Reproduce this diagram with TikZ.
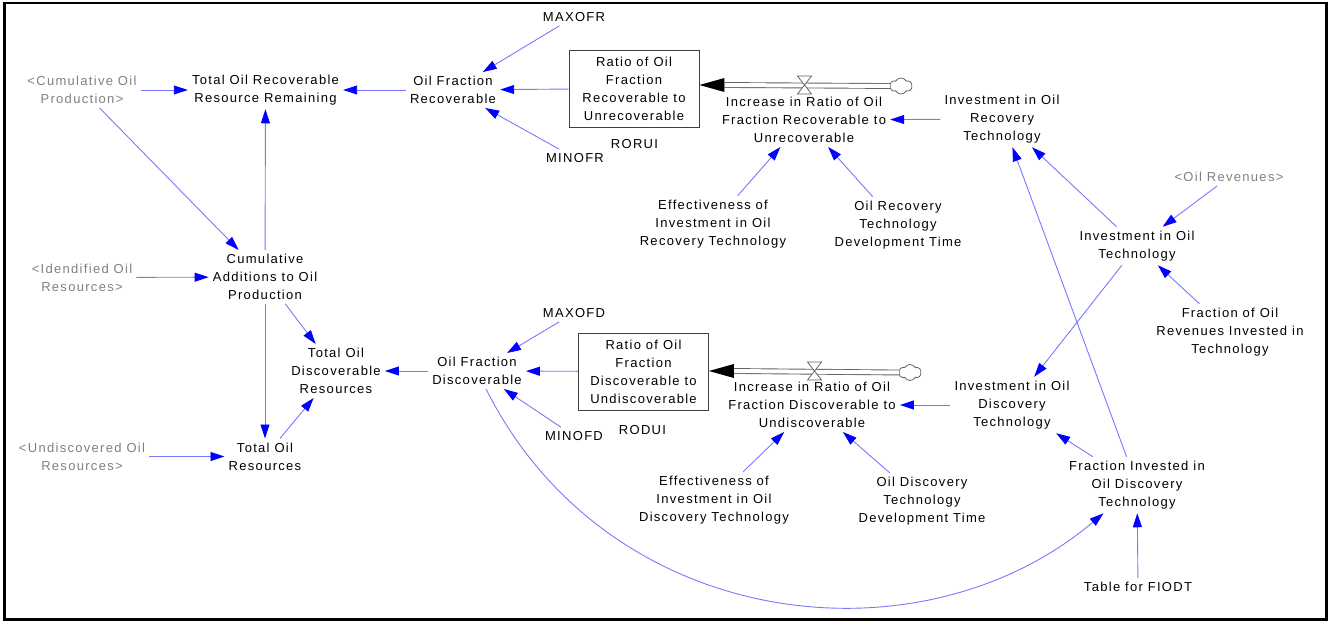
\documentclass[tikz,border=0pt]{standalone}
\usepackage{fontspec}
\setmainfont{Liberation Sans}[LetterSpace=10]
\usetikzlibrary{arrows.meta,shapes.symbols,calc}

\definecolor{linkblue}{RGB}{120,120,255}
\definecolor{tipblue}{RGB}{0,0,255}
\definecolor{pipegray}{RGB}{100,100,100}
\definecolor{ghosttext}{RGB}{128,128,128}

\tikzset{
  var/.style={align=center, inner sep=4pt, font=\fontsize{13}{18}\selectfont},
  ghostvar/.style={var, text=ghosttext},
  stock/.style={var, draw=black!75, line width=0.8pt, minimum width=130pt, minimum height=77pt, inner sep=0pt},
  link/.style={draw=linkblue, line width=0.9pt, -{Triangle[length=14pt,width=9pt,color=tipblue]}},
  pipe/.style={draw=pipegray, line width=0.9pt, double=white, double distance=4pt},
  valveshape/.style={draw=pipegray, fill=white, line width=0.8pt},
  cloudsrc/.style={cloud, cloud puffs=6, cloud puff arc=120, aspect=1.3, draw=pipegray, fill=white, line width=0.8pt, minimum width=22pt, minimum height=16pt, inner sep=0pt},
}

\begin{document}
\begin{tikzpicture}[x=1pt,y=-1pt]
\useasboundingbox (0,0) rectangle (1331,623);
\draw[line width=2.5pt] (4.5,3) rectangle (1326.5,619.5);

% ---- upper sector: recoverable fraction ----
\node[ghostvar] (cop) at (82,90) {<Cumulative Oil\\Production>};
\node[var] (torr) at (265.5,90) {Total Oil Recoverable\\Resource Remaining};
\node[var] (ofr) at (453,90) {Oil Fraction\\Recoverable};
\node[var] (maxofr) at (574,17) {MAXOFR};
\node[var] (minofr) at (575,158) {MINOFR};
\node[stock] (box1) at (634,88.5) {Ratio of Oil\\Fraction\\Recoverable to\\Unrecoverable};
\node[var] (rorui) at (634.5,144) {RORUI};
\node[var] (inc1) at (804,120) {Increase in Ratio of Oil\\Fraction Recoverable to\\Unrecoverable};
\node[cloudsrc] (cloud1) at (901,86) {};
\coordinate (v1) at (804.5,85);
\node[var] (invrec) at (1002,119) {Investment in Oil\\Recovery\\Technology};
\node[var] (effrec) at (713,224) {Effectiveness of\\Investment in Oil\\Recovery Technology};
\node[var] (devrec) at (898,225) {Oil Recovery\\Technology\\Development Time};
\node[ghostvar] (orev) at (1229,177) {<Oil Revenues>};
\node[var] (invtech) at (1137,246) {Investment in Oil\\Technology};
\node[var] (fracrev) at (1230,332) {Fraction of Oil\\Revenues Invested in\\Technology};

% ---- lower sector: discoverable fraction ----
\node[ghostvar] (ido) at (82,277.5) {<Idendified Oil\\Resources>};
\node[var] (cumadd) at (265,277) {Cumulative\\Additions to Oil\\Production};
\node[var] (todr) at (336,371) {Total Oil\\Discoverable\\Resources};
\node[var] (tor) at (265,456.5) {Total Oil\\Resources};
\node[ghostvar] (undisc) at (82,456.5) {<Undiscovered Oil\\Resources>};
\node[var] (ofd) at (477,371) {Oil Fraction\\Discoverable};
\node[var] (maxofd) at (574,313) {MAXOFD};
\node[var] (minofd) at (574,436) {MINOFD};
\node[stock] (box2) at (643.5,371.5) {Ratio of Oil\\Fraction\\Discoverable to\\Undiscoverable};
\node[var] (rodui) at (642.5,430) {RODUI};
\node[var] (inc2) at (812,405) {Increase in Ratio of Oil\\Fraction Discoverable to\\Undiscoverable};
\node[cloudsrc] (cloud2) at (910,372.5) {};
\coordinate (v2) at (814.5,371);
\node[var] (invdisc) at (1012,405) {Investment in Oil\\Discovery\\Technology};
\node[var] (effdisc) at (714,500) {Effectiveness of\\Investment in Oil\\Discovery Technology};
\node[var] (devdisc) at (922,501) {Oil Discovery\\Technology\\Development Time};
\node[var] (fiodt) at (1137,485) {Fraction Invested in\\Oil Discovery\\Technology};
\node[var] (tfiodt) at (1138,587) {Table for FIODT};

% ---- flows into the two stocks ----
\coordinate (tip1) at (box1.east |- v1);
\draw[pipe] (cloud1.west) -- ($(tip1)+(25,0)$);
\fill[black] (tip1) -- ++(25,-7) -- ++(0,14) -- cycle;
\draw[valveshape] (v1) ++(-7,-9) -- ++(14,0) -- ++(-14,18) -- ++(14,0) -- cycle;

\coordinate (tip2) at (box2.east |- v2);
\draw[pipe] (cloud2.west) -- ($(tip2)+(25,0)$);
\fill[black] (tip2) -- ++(25,-7) -- ++(0,14) -- cycle;
\draw[valveshape] (v2) ++(-7,-9) -- ++(14,0) -- ++(-14,18) -- ++(14,0) -- cycle;

% ---- causal links ----
\draw[link] (cop) -- (torr);
\draw[link] (cop) -- (cumadd);
\draw[link] (ofr) -- (torr);
\draw[link] (cumadd) -- (torr);
\draw[link] (maxofr) -- (ofr);
\draw[link] (minofr) -- (ofr);
\draw[link] (box1) -- (ofr);
\draw[link] (invrec) -- (inc1);
\draw[link] (effrec) -- (inc1);
\draw[link] (devrec) -- (inc1);
\draw[link] (invtech) -- (invrec);
\draw[link] (orev) -- (invtech);
\draw[link] (fracrev) -- (invtech);
\draw[link] (invtech) -- (invdisc);
\draw[link] (fiodt) -- (invrec);
\draw[link] (fiodt) -- (invdisc);
\draw[link] (tfiodt) -- (fiodt);
\draw[link] (ofd) .. controls (608,632) and (920,668) .. (fiodt);
\draw[link] (invdisc) -- (inc2);
\draw[link] (effdisc) -- (inc2);
\draw[link] (devdisc) -- (inc2);
\draw[link] (box2) -- (ofd);
\draw[link] (maxofd) -- (ofd);
\draw[link] (minofd) -- (ofd);
\draw[link] (ofd) -- (todr);
\draw[link] (cumadd) -- (todr);
\draw[link] (cumadd) -- (tor);
\draw[link] (tor) -- (todr);
\draw[link] (ido) -- (cumadd);
\draw[link] (undisc) -- (tor);
\end{tikzpicture}
\end{document}
